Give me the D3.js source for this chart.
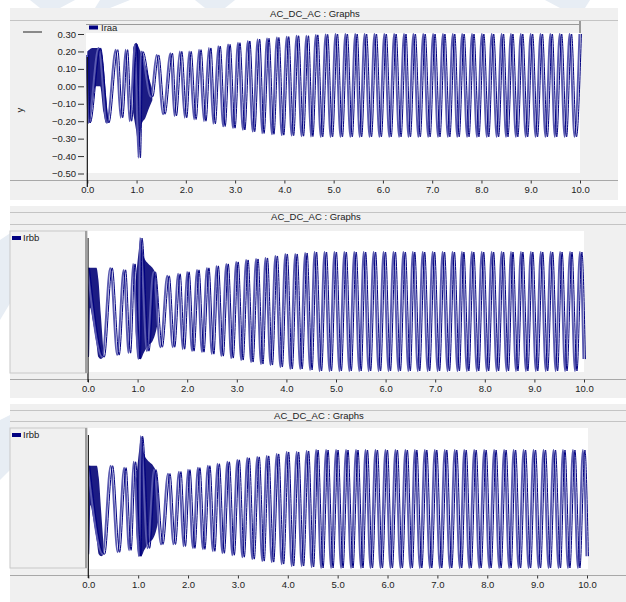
<!DOCTYPE html>
<meta charset="utf-8">
<head>
<style>
body { margin: 0; background: #fff; }
text { font-family: "Liberation Sans", Arial, sans-serif; fill: #222; }
.tick text { font-size: 9.5px; }
.tick line { stroke: #333; }
.title, .legend { font-size: 9.5px; }
</style>
</head>
<body>
<script src="https://cdn.jsdelivr.net/npm/d3@7"></script>
<script>

// tick labels
var xTicks = [0, 1, 2, 3, 4, 5, 6, 7, 8, 9, 10];
var yTicksIraa = [0.30, 0.20, 0.10, 0.00, -0.10, -0.20, -0.30, -0.40, -0.50];
var titles = ["AC_DC_AC : Graphs", "AC_DC_AC : Graphs", "AC_DC_AC : Graphs"];
var seriesNames = ["Iraa", "Irbb", "Irbb"];

// Iraa: extrema [time, value]
var iraaExtrema = [[0.00,0.18],[0.03,-0.21],[0.24,0.22],[0.41,-0.21],[0.59,0.21],[0.69,-0.18],[0.79,0.21],[0.87,-0.20],
  [0.98,0.24],[1.05,-0.41],[1.10,0.20],[1.30,-0.06],[1.42,0.18],[1.55,-0.16],[1.70,0.19],[1.78,-0.17],[1.89,0.20],[1.99,-0.18],
  [2.08,0.20],[2.18,-0.19],[2.28,0.21],[2.38,-0.20],[2.48,0.22],[2.57,-0.215],[2.67,0.23],[2.77,-0.23],[2.87,0.24],[2.97,-0.24],
  [3.07,0.25],[3.17,-0.25],[3.27,0.26],[3.37,-0.26],[3.47,0.27],[3.56,-0.27],[3.66,0.275],[3.76,-0.275],[3.86,0.28],[3.96,-0.28],
  [4.06,0.285],[4.16,-0.283],[4.26,0.29],[4.36,-0.286],[4.46,0.29],[4.55,-0.288],[4.65,0.295],[4.75,-0.29],[4.85,0.298],[4.95,-0.29],
  [5.05,0.30],[5.15,-0.29],[5.25,0.30],[5.35,-0.29],[5.45,0.30],[5.54,-0.29],[5.64,0.30],[5.74,-0.29],[5.84,0.30],[5.94,-0.29],
  [6.04,0.30],[6.14,-0.29],[6.24,0.30],[6.34,-0.29],[6.44,0.30],[6.53,-0.29],[6.63,0.30],[6.73,-0.29],[6.83,0.30],[6.93,-0.29],
  [7.03,0.30],[7.13,-0.29],[7.23,0.30],[7.33,-0.29],[7.43,0.30],[7.52,-0.29],[7.62,0.30],[7.72,-0.29],[7.82,0.30],[7.92,-0.29],
  [8.02,0.30],[8.12,-0.29],[8.22,0.30],[8.32,-0.29],[8.42,0.30],[8.51,-0.29],[8.61,0.30],[8.71,-0.29],[8.81,0.30],[8.91,-0.29],
  [9.01,0.30],[9.11,-0.29],[9.21,0.30],[9.31,-0.29],[9.41,0.30],[9.50,-0.29],[9.60,0.30],[9.70,-0.29],[9.80,0.30],[9.90,-0.29],[10.0,0.30]];
// dense (filled) parts of Iraa: [time, low, high]
var iraaBandStart = [[0.00,-0.21,0.20],[0.04,-0.21,0.21],[0.10,-0.12,0.22],[0.17,0.0,0.22],[0.26,0.0,0.22],[0.33,-0.15,0.12],[0.38,-0.21,-0.05],[0.42,-0.21,-0.18]];
var iraaBandFault = [[0.93,-0.15,0.22],[0.99,-0.25,0.25],[1.05,-0.35,0.22],[1.10,-0.22,0.18],[1.18,-0.18,0.12],[1.26,-0.12,0.04],[1.32,-0.08,-0.02]];

var irbbExtrema = [[0.00,0.22],[0.30,-0.23],[0.46,0.22],[0.60,-0.22],[0.73,0.21],[0.83,-0.21],[0.92,0.24],[1.03,-0.24],
  [1.06,0.37],[1.20,-0.20],[1.33,0.20],[1.47,-0.18],[1.61,0.18],[1.72,-0.18],[1.83,0.19],[1.92,-0.19],
  [2.01,0.20],[2.11,-0.20],[2.21,0.21],[2.31,-0.205],[2.41,0.22],[2.51,-0.215],[2.60,0.23],[2.70,-0.225],[2.80,0.24],[2.90,-0.235],
  [3.00,0.25],[3.10,-0.245],[3.20,0.26],[3.30,-0.255],[3.40,0.265],[3.50,-0.265],[3.59,0.27],[3.69,-0.27],[3.79,0.28],[3.89,-0.28],
  [3.99,0.29],[4.09,-0.29],[4.19,0.29],[4.29,-0.29],[4.39,0.295],[4.49,-0.295],[4.58,0.30],[4.68,-0.30],[4.78,0.30],[4.88,-0.30],
  [4.98,0.30],[5.08,-0.30],[5.18,0.30],[5.28,-0.30],[5.38,0.30],[5.48,-0.30],[5.57,0.30],[5.67,-0.30],[5.77,0.30],[5.87,-0.30],
  [5.97,0.30],[6.07,-0.30],[6.17,0.30],[6.27,-0.30],[6.37,0.30],[6.47,-0.30],[6.56,0.30],[6.66,-0.30],[6.76,0.30],[6.86,-0.30],
  [6.96,0.30],[7.06,-0.30],[7.16,0.30],[7.26,-0.30],[7.36,0.30],[7.46,-0.30],[7.55,0.30],[7.65,-0.30],[7.75,0.30],[7.85,-0.30],
  [7.95,0.30],[8.05,-0.30],[8.15,0.30],[8.25,-0.30],[8.35,0.30],[8.45,-0.30],[8.54,0.30],[8.64,-0.30],[8.74,0.30],[8.84,-0.30],
  [8.94,0.30],[9.04,-0.30],[9.14,0.30],[9.24,-0.30],[9.34,0.30],[9.44,-0.30],[9.53,0.30],[9.63,-0.30],[9.73,0.30],[9.83,-0.30],
  [9.93,0.30],[10.0,-0.24]];
var irbbBandStart = [[0.00,-0.23,0.22],[0.02,-0.23,0.22],[0.04,0.02,0.22],[0.10,-0.05,0.22],[0.17,-0.16,0.22],[0.21,-0.23,0.16],[0.26,-0.24,-0.02],[0.31,-0.23,-0.20]];
var irbbBandFault = [[0.96,-0.10,0.15],[1.02,-0.24,0.30],[1.06,-0.24,0.37],[1.12,-0.21,0.28],[1.22,-0.17,0.24],[1.30,-0.15,0.22],[1.37,-0.10,0.18],[1.41,-0.05,0.05]];

var svg = d3.select("body").append("svg")
    .attr("width", 626)
    .attr("height", 602);

// faint watermark in the background
var marks = [
  [[30,0],[75,0],[60,8],[40,8]],
  [[100,0],[130,0],[110,8],[95,8]],
  [[195,0],[235,0],[225,8],[205,8]],
  [[545,0],[590,0],[585,8],[560,8]],
  [[0,240],[12,232],[12,300],[0,320]],
  [[0,420],[10,415],[10,470],[0,480]]
];
svg.selectAll(".wm").data(marks).enter().append("polygon")
    .attr("points", function(d) { return d.join(" "); })
    .attr("fill", "#e7edf4");

var panels = [
  {bg: [10, 8, 608, 192], titleX: 315, titleY: 17, lines: [20.5], plot: [86, 33, 494, 140],
   xr: [87.3, 580], yd: [-0.5, 0.3], yr: [173.5, 34], axisY: 180.5, axisEnd: 618, cursor: [57, 187],
   data: iraaExtrema, bands: [iraaBandStart, iraaBandFault]},
  {bg: [10, 206, 616, 192], titleX: 316, titleY: 220, lines: [212.5, 224.5], plot: [88, 231, 496, 141],
   xr: [88, 584], yd: [-0.3, 0.3], yr: [371, 252], axisY: 379.5, axisEnd: 626, cursor: [238, 382],
   legendBox: [10, 231, 77, 142], data: irbbExtrema, bands: [irbbBandStart, irbbBandFault]},
  {bg: [10, 404, 616, 198], titleX: 319, titleY: 419, lines: [410.5, 421.5], plot: [88, 428, 500, 141],
   xr: [88.3, 587], yd: [-0.3, 0.3], yr: [568, 450], axisY: 575.5, axisEnd: 626, cursor: [435, 578],
   legendBox: [10, 428, 77, 140], data: irbbExtrema, bands: [irbbBandStart, irbbBandFault]}
];

panels.forEach(function(p, i) {
    var g = svg.append("g");

    g.append("rect")
        .attr("x", p.bg[0]).attr("y", p.bg[1])
        .attr("width", p.bg[2]).attr("height", p.bg[3])
        .attr("fill", "#f0f0f0");

    p.lines.forEach(function(ly) {
        g.append("line")
            .attr("x1", p.bg[0]).attr("x2", p.bg[0] + p.bg[2])
            .attr("y1", ly).attr("y2", ly)
            .attr("stroke", "#c4c4c4");
    });

    g.append("text")
        .attr("class", "title")
        .attr("x", p.titleX).attr("y", p.titleY)
        .attr("text-anchor", "middle")
        .text(titles[i]);

    // white plotting area
    g.append("rect")
        .attr("x", p.plot[0]).attr("y", p.plot[1])
        .attr("width", p.plot[2]).attr("height", p.plot[3])
        .attr("fill", "#fff");

    var x = d3.scaleLinear().domain([0, 10]).range(p.xr);
    var y = d3.scaleLinear().domain(p.yd).range(p.yr);

    var clipId = "clip" + i;
    g.append("clipPath").attr("id", clipId)
        .append("rect")
        .attr("x", p.plot[0]).attr("y", p.plot[1] - 1)
        .attr("width", p.plot[2] + 3).attr("height", p.plot[3] + 2);
    var plotG = g.append("g").attr("clip-path", "url(#" + clipId + ")");

    var area = d3.area()
        .x(function(d) { return x(d[0]); })
        .y0(function(d) { return y(d[1]); })
        .y1(function(d) { return y(d[2]); })
        .curve(d3.curveMonotoneX);

    p.bands.forEach(function(b) {
        plotG.append("path")
            .datum(b)
            .attr("d", area)
            .attr("fill", "#1c1c84");
    });

    var line = d3.line()
        .x(function(d) { return x(d[0]); })
        .y(function(d) { return y(d[1]); })
        .curve(d3.curveMonotoneX);

    // trace drawn twice: a pale wide stroke and a dark thin one beside it
    plotG.append("path")
        .datum(p.data)
        .attr("d", line)
        .attr("transform", "translate(-0.6,0)")
        .attr("fill", "none")
        .attr("stroke", "#5a5ab0")
        .attr("stroke-width", 1.9);

    plotG.append("path")
        .datum(p.data)
        .attr("d", line)
        .attr("transform", "translate(1.4,0)")
        .attr("fill", "none")
        .attr("stroke", "#000080")
        .attr("stroke-width", 1.0);

    // x axis
    g.append("line")
        .attr("x1", p.bg[0]).attr("x2", p.axisEnd)
        .attr("y1", p.axisY).attr("y2", p.axisY)
        .attr("stroke", "#a8a8a8");

    var xAxis = g.append("g")
        .attr("transform", "translate(0," + p.axisY + ")")
        .call(d3.axisBottom(x).tickValues(xTicks).tickSize(3).tickPadding(3).tickFormat(d3.format(".1f")));
    xAxis.select(".domain").remove();

    // cursor at t = 0
    g.append("line")
        .attr("x1", x(0)).attr("x2", x(0))
        .attr("y1", p.cursor[0]).attr("y2", p.cursor[1])
        .attr("stroke", "#111").attr("stroke-width", 1.2);

    if (i == 0) {
        // legend strip above the plot
        g.append("line")
            .attr("x1", p.plot[0]).attr("x2", p.plot[0] + p.plot[2])
            .attr("y1", 24.5).attr("y2", 24.5)
            .attr("stroke", "#9a9a9a");
        g.append("line")
            .attr("x1", p.plot[0] + p.plot[2]).attr("x2", p.plot[0] + p.plot[2])
            .attr("y1", 21).attr("y2", 33)
            .attr("stroke", "#9a9a9a").attr("stroke-width", 2);
        g.append("rect")
            .attr("x", 89).attr("y", 25.5).attr("width", 9).attr("height", 4)
            .attr("fill", "#000080");
        g.append("text").attr("class", "legend")
            .attr("x", 101).attr("y", 31).text(seriesNames[i]);

        g.append("line")
            .attr("x1", 23).attr("x2", 42).attr("y1", 32).attr("y2", 32)
            .attr("stroke", "#222");
        g.append("text")
            .attr("transform", "translate(23,110) rotate(-90)")
            .attr("text-anchor", "middle")
            .style("font-size", "9.5px")
            .text("y");

        var yAxis = g.append("g")
            .attr("transform", "translate(84,0)")
            .call(d3.axisLeft(y).tickValues(yTicksIraa).tickSize(6).tickPadding(2).tickFormat(d3.format(".2f")));
        yAxis.select(".domain").remove();
    } else {
        var lb = p.legendBox;
        g.append("rect")
            .attr("x", lb[0]).attr("y", lb[1])
            .attr("width", lb[2]).attr("height", lb[3])
            .attr("fill", "#f0f0f0")
            .attr("stroke", "#c8c8c8");
        g.append("line")
            .attr("x1", lb[0] + lb[2] - 1).attr("x2", lb[0] + lb[2] - 1)
            .attr("y1", lb[1]).attr("y2", lb[1] + lb[3])
            .attr("stroke", "#a0a0a0").attr("stroke-width", 2);
        g.append("rect")
            .attr("x", lb[0] + 2).attr("y", lb[1] + 5).attr("width", 9).attr("height", 4)
            .attr("fill", "#000080");
        g.append("text").attr("class", "legend")
            .attr("x", lb[0] + 13).attr("y", lb[1] + 10).text(seriesNames[i]);
    }
});

</script>
</body>
